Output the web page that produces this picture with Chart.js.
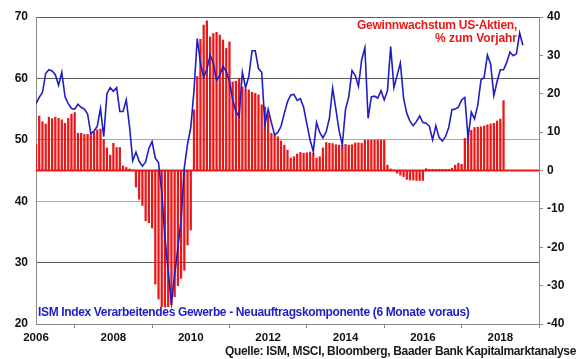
<!DOCTYPE html>
<html>
<head>
<meta charset="utf-8">
<script src="https://cdn.jsdelivr.net/npm/chart.js@4.4.1/dist/chart.umd.min.js"></script>
<style>
  html, body { margin: 0; padding: 0; background: #fff; }
  #wrap { position: relative; width: 580px; height: 359px; overflow: hidden; }
  #c { position: absolute; left: 0; top: 0; }
  .lbl { position: absolute; white-space: nowrap; font-family: "Liberation Sans", Arial, sans-serif; font-weight: bold; line-height: 1; }
</style>
</head>
<body>
<div id="wrap">
  <canvas id="c" width="580" height="359"></canvas>
</div>
<script>
// ---------- DATA ----------
// Earnings growth of US equities, % y/y, monthly (month-end), starting Dec 2005
const barStart = [2005, 12];
const earningsGrowth = [
  6.8,
  14.2, 12.7, 12.1, 13.9, 13.5, 13.9, 13.6, 13.2, 12.3, 13.6, 14.7, 15.1,
  9.7, 9.7, 9.4, 9.4, 9.4, 10.1, 10.6, 10.8, 8.1, 5.9, 4.0, 7.1,
  6.0, 6.0, 1.2, 0.8, 0.4, 0.1, -4.3, -7.5, -9.1, -13.1, -13.6, -15.0,
  -29.6, -33.5, -35.5, -35.6, -35.5, -35.0, -32.9, -30.0, -28.1, -26.0, -19.4, -15.5,
  15.8, 24.5, 34.2, 37.9, 39.0, 34.8, 35.7, 36.0, 35.3, 34.0, 31.8, 33.5,
  23.1, 23.3, 24.0, 21.8, 21.2, 21.0, 20.4, 20.1, 19.7, 17.1, 16.6, 14.5,
  9.7, 9.2, 8.8, 7.7, 6.6, 5.3, 3.2, 3.6, 4.3, 4.7, 4.5, 4.6,
  4.8, 4.5, 3.2, 3.6, 5.9, 7.3, 7.1, 7.0, 6.7, 6.6, 6.6, 6.8,
  6.6, 6.7, 7.2, 7.2, 7.1, 7.9, 7.9, 7.9, 7.9, 7.9, 7.9, 7.9,
  1.4, 0.4, 0.1, -0.7, -1.2, -1.6, -2.3, -2.5, -2.5, -2.6, -2.6, -2.6,
  0.5, 0.3, 0.3, 0.3, 0.3, 0.3, 0.3, 0.3, 0.6, 1.4, 1.9, 1.6,
  8.4, 9.7, 10.5, 11.2, 11.3, 11.4, 11.6, 11.9, 12.1, 12.3, 12.9, 13.4,
  18.2
];

// ISM manufacturing new orders index (6 months ahead), monthly from Jan 2006
const ismStart = [2006, 1];
const ismNewOrders = [
  55.9, 56.9, 57.7, 60.8, 61.4, 61.2, 60.6, 58.9, 61.0, 57.0, 55.9, 55.1,
  55.0, 55.8, 55.3, 55.0, 54.2, 51.0, 51.4, 52.2, 55.1, 50.5, 57.5, 58.5,
  57.9, 58.5, 54.6, 54.6, 56.5, 52.2, 46.6, 48.0, 46.5, 45.7, 46.4, 48.6,
  49.7, 47.0, 46.3, 41.5, 34.0, 28.5, 23.4, 28.0, 32.4, 37.0, 45.5, 49.3,
  52.0, 58.0, 66.5, 62.5, 60.2, 61.5, 63.8, 62.5, 59.7, 60.5, 62.0, 61.1,
  59.5, 56.5, 54.6, 53.8, 61.0, 58.5, 60.3, 64.5, 64.5, 61.6, 61.0, 52.5,
  55.0, 52.8, 50.8, 51.2, 52.2, 54.3, 56.2, 57.3, 57.4, 56.4, 56.7, 55.3,
  52.6, 50.0, 48.1, 52.8, 51.2, 50.3, 51.3, 53.5, 58.4, 55.0, 51.5, 49.2,
  55.0, 57.0, 61.3, 60.5, 58.7, 63.0, 65.0, 53.5, 57.0, 57.1, 56.8, 58.0,
  56.5, 58.0, 65.2, 58.5, 60.5, 62.5, 56.8, 54.3, 53.0, 52.3, 53.0, 53.9,
  52.8, 52.7, 52.2, 50.0, 52.3, 50.4, 49.8, 50.5, 52.0, 54.9, 55.0, 55.3,
  56.5, 56.9, 50.3, 54.5, 53.4, 55.6, 59.7, 60.2, 63.8, 62.3, 57.2, 59.5,
  61.4, 61.4, 62.6, 64.3, 63.7, 64.0, 67.4, 65.4
];

const xTickYears = [2006, 2008, 2010, 2012, 2014, 2016, 2018];
const leftTicks = [20, 30, 40, 50, 60, 70];
const rightTicks = [-40, -30, -20, -10, 0, 10, 20, 30, 40];

const titleRight = ["Gewinnwachstum US-Aktien,", "% zum Vorjahr"];
const titleLeft = "ISM Index Verarbeitendes Gewerbe - Neuauftragskomponente (6 Monate voraus)";
const sourceText = "Quelle: ISM, MSCI, Bloomberg, Baader Bank Kapitalmarktanalyse";

// ---------- build library tables ----------
// bars at month end: year + month/12
const barPoints = earningsGrowth.map((v, i) => {
  const mIdx = barStart[1] + i;
  const y = barStart[0] + Math.floor((mIdx - 1) / 12);
  const m = ((mIdx - 1) % 12) + 1;
  return { x: y + m / 12, y: v };
});
const ismPoints = ismNewOrders.map((v, i) => {
  const mIdx = ismStart[1] - 1 + i;
  return { x: ismStart[0] + mIdx / 12, y: v };
});
const zeroLine = [{ x: 2006, y: 0 }, { x: 2019, y: 0 }];

const FONT = '"Liberation Sans", Arial, sans-serif';
const RED = '#e81818';
const BLUE = '#1e1ec4';

new Chart(document.getElementById('c'), {
  type: 'line',
  data: {
    datasets: [
      {
        type: 'line', label: 'ISM', data: ismPoints, xAxisID: 'x', yAxisID: 'y',
        borderColor: BLUE, borderWidth: 1.6, pointRadius: 0, tension: 0, fill: false, order: 0
      },
      {
        type: 'line', label: 'zero', data: zeroLine, xAxisID: 'x', yAxisID: 'y2',
        borderColor: RED, borderWidth: 2, pointRadius: 0, fill: false, order: 1
      },
      {
        type: 'bar', label: 'Gewinnwachstum', data: barPoints, xAxisID: 'x', yAxisID: 'y2',
        backgroundColor: RED, borderWidth: 0, barThickness: 1.6, grouped: false, order: 2
      }
    ]
  },
  options: {
    responsive: false,
    animation: false,
    devicePixelRatio: 1,
    layout: { padding: { top: 17, left: 0, right: 0, bottom: 0 } },
    plugins: { legend: { display: false }, tooltip: { enabled: false }, title: { display: false } },
    scales: {
      x: {
        type: 'linear', position: 'bottom', min: 2006, max: 2019, offset: false,
        afterBuildTicks: s => { s.ticks = xTickYears.map(v => ({ value: v })); },
        afterFit: s => { s.height = 35; },
        ticks: { autoSkip: false, maxRotation: 0, padding: 3, color: '#111',
                 font: { family: FONT, size: 11.5, weight: 'bold' }, callback: v => String(v) },
        grid: { drawOnChartArea: false, drawTicks: true, tickLength: 4, color: '#8a8a8a' },
        border: { color: '#8a8a8a', width: 1 }
      },
      y: {
        type: 'linear', position: 'left', min: 20, max: 70,
        afterBuildTicks: s => { s.ticks = leftTicks.map(v => ({ value: v })); },
        afterFit: s => { s.width = 36; },
        ticks: { padding: 8, color: '#111', font: { family: FONT, size: 12, weight: 'bold' } },
        grid: { drawTicks: false, lineWidth: 1,
                color: ctx => (ctx.tick && (ctx.tick.value === 40 || ctx.tick.value === 50)) ? '#a8a8a8' : '#5e5e5e' },
        border: { color: '#8a8a8a', width: 1 }
      },
      y2: {
        type: 'linear', position: 'right', min: -40, max: 40,
        afterBuildTicks: s => { s.ticks = rightTicks.map(v => ({ value: v })); },
        afterFit: s => { s.width = 41; },
        ticks: { padding: 4, color: '#111', font: { family: FONT, size: 12, weight: 'bold' } },
        grid: { drawOnChartArea: false, drawTicks: true, tickLength: 4, color: '#8a8a8a' },
        border: { color: '#8a8a8a', width: 1 }
      }
    }
  }
});

// ---------- text annotations (real DOM text) ----------
const wrap = document.getElementById('wrap');
const mctx = document.createElement('canvas').getContext('2d');
function addText(text, size, color, left, right, capCenterY) {
  const d = document.createElement('div');
  d.className = 'lbl';
  d.textContent = text;
  d.style.fontSize = size + 'px';
  d.style.color = color;
  mctx.font = 'bold ' + size + 'px ' + FONT;
  const w = mctx.measureText(text).width;
  const ls = ((right - left) - w) / text.length;
  d.style.letterSpacing = ls.toFixed(3) + 'px';
  d.style.left = left + 'px';
  d.style.top = (capCenterY - 0.49 * size) + 'px';
  wrap.appendChild(d);
}
addText(titleRight[0], 12, RED, 357, 517, 25.3);
addText(titleRight[1], 12, RED, 435, 517, 37.8);
addText(titleLeft, 12, BLUE, 38, 469.5, 312.3);
addText(sourceText, 12, '#1a1a1a', 225, 576, 351.2);
</script>
</body>
</html>
